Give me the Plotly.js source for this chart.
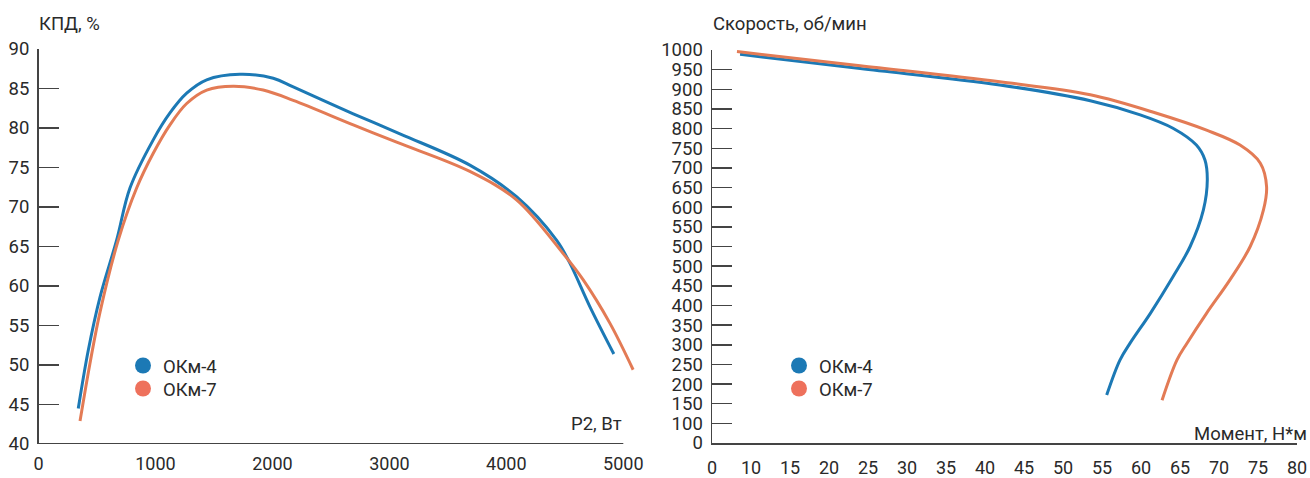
<!DOCTYPE html>
<html>
<head>
<meta charset="utf-8">
<script src="https://cdn.plot.ly/plotly-3.0.1.min.js"></script>
<style>html,body{margin:0;padding:0;background:#fff;}#chart{width:1310px;height:478px;}</style>
</head>
<body>
<div id="chart"></div>
<script>
// ---- Data: left chart (КПД vs P2) ----
const seriesNames = ["ОКм-4", "ОКм-7"];

const p2_okm4 = [340, 426, 526, 668, 782, 981, 1124, 1267, 1438, 1722, 2007, 2178, 2691, 3100, 3688, 4087, 4429, 4543, 4714, 4919];
const eff_okm4 = [44.5, 51.9, 58.6, 65.8, 72.4, 78.5, 81.9, 84.4, 86.1, 86.8, 86.3, 85.2, 81.8, 79.2, 75.3, 71.3, 65.8, 62.9, 57.4, 51.4];

const p2_okm7 = [355, 440, 526, 682, 839, 981, 1124, 1267, 1438, 1665, 1921, 2178, 2691, 3062, 3688, 4087, 4486, 4656, 4885, 5084];
const eff_okm7 = [42.9, 50.2, 56.7, 65.8, 72.4, 76.8, 80.4, 83.1, 84.8, 85.3, 84.8, 83.5, 80.4, 78.2, 74.5, 70.9, 64.1, 60.8, 55.3, 49.4];

const leftXTicks = [0, 1000, 2000, 3000, 4000, 5000];
const leftYTicks = [40, 45, 50, 55, 60, 65, 70, 75, 80, 85, 90];

// ---- Data: right chart (Скорость vs Момент) ----
const torque_okm4 = [8.6, 24.0, 41.9, 53.5, 59.9, 64.1, 67.1, 68.2, 68.5, 68.0, 66.3, 64.1, 61.2, 58.6, 57.3, 55.6];
const speed_okm4  = [989, 953, 911, 871, 835, 801, 758, 720, 669, 593, 500, 423, 330, 254, 211, 122];

const torque_okm7 = [8.2, 24.0, 41.9, 53.5, 62.0, 68.4, 72.7, 75.3, 76.1, 75.7, 74.0, 71.4, 68.4, 65.9, 64.6, 62.7];
const speed_okm7  = [996, 960, 919, 886, 839, 796, 758, 712, 652, 593, 500, 415, 330, 254, 211, 109];

const rightXTickVals = [5, 10, 15, 20, 25, 30, 35, 40, 45, 50, 55, 60, 65, 70, 75, 80];
const rightXTickText = ["0", "10", "15", "20", "25", "30", "35", "40", "45", "50", "55", "60", "65", "70", "75", "80"];
const rightYTickVals = [0, 50, 100, 150, 200, 250, 300, 350, 400, 450, 500, 550, 600, 650, 700, 750, 800, 850, 900, 950, 1000];
const rightYTickText = ["0", "100", "150", "200", "250", "300", "350", "400", "450", "500", "500", "550", "600", "650", "700", "750", "800", "850", "900", "950", "1000"];

// ---- Styles ----
const blue = "#1c79b5";
const orangeLine = "#e37b55";
const orangeDot = "#ee715c";
const txt = "#2a2a2a";
const axisCol = "#444";
const FONT = "Roboto, 'Noto Sans', sans-serif";
const FS = 18.5;
const W = 1310, H = 478;
const px = v => v / W;
const py = v => 1 - v / H;

const lineStyle = c => ({color: c, width: 3, shape: "spline", smoothing: 1});

const traces = [
  {x: p2_okm4, y: eff_okm4, mode: "lines", line: lineStyle(blue), xaxis: "x", yaxis: "y", showlegend: false, hoverinfo: "skip"},
  {x: p2_okm7, y: eff_okm7, mode: "lines", line: lineStyle(orangeLine), xaxis: "x", yaxis: "y", showlegend: false, hoverinfo: "skip"},
  {x: [null], y: [null], mode: "markers", marker: {color: blue, size: 18}, name: seriesNames[0], xaxis: "x", yaxis: "y", legend: "legend"},
  {x: [null], y: [null], mode: "markers", marker: {color: orangeDot, size: 18}, name: seriesNames[1], xaxis: "x", yaxis: "y", legend: "legend2"},
  {x: torque_okm4, y: speed_okm4, mode: "lines", line: lineStyle(blue), xaxis: "x2", yaxis: "y2", showlegend: false, hoverinfo: "skip"},
  {x: torque_okm7, y: speed_okm7, mode: "lines", line: lineStyle(orangeLine), xaxis: "x2", yaxis: "y2", showlegend: false, hoverinfo: "skip"},
  {x: [null], y: [null], mode: "markers", marker: {color: blue, size: 18}, name: seriesNames[0], xaxis: "x2", yaxis: "y2", legend: "legend3"},
  {x: [null], y: [null], mode: "markers", marker: {color: orangeDot, size: 18}, name: seriesNames[1], xaxis: "x2", yaxis: "y2", legend: "legend4"}
];

const tickFont = {family: FONT, size: FS, color: txt};
const xTickFont = {family: FONT, size: 18, color: txt};
const annFont = {family: FONT, size: FS, color: txt};
const legendBase = (x, y) => ({x: px(x), y: py(y), xanchor: "left", yanchor: "middle", bgcolor: "rgba(0,0,0,0)", font: {family: FONT, size: FS, color: txt}});

const layout = {
  width: W, height: H,
  margin: {l: 0, r: 0, t: 0, b: 0},
  paper_bgcolor: "#fff", plot_bgcolor: "rgba(0,0,0,0)",
  font: {family: FONT, size: FS, color: txt},
  xaxis: {
    domain: [px(38.5), px(635)], range: [0, 5100],
    tickvals: leftXTicks, ticks: "", showline: false, showgrid: false, zeroline: false,
    tickfont: xTickFont, ticklabelstandoff: 7, automargin: false, fixedrange: true
  },
  yaxis: {
    domain: [py(444), py(49)], range: [40, 90],
    tickvals: leftYTicks, ticks: "inside", ticklen: 20, tickwidth: 1.5, tickcolor: axisCol,
    showline: true, linecolor: axisCol, linewidth: 1.5, showgrid: false, zeroline: false,
    tickfont: tickFont, ticklabelstandoff: 4, automargin: false, fixedrange: true
  },
  xaxis2: {
    domain: [px(712), px(1297)], range: [5, 80], anchor: "y2",
    tickvals: rightXTickVals, ticktext: rightXTickText, ticks: "",
    showline: true, linecolor: axisCol, linewidth: 2, showgrid: false, zeroline: false,
    tickfont: xTickFont, ticklabelstandoff: 7, automargin: false, fixedrange: true
  },
  yaxis2: {
    domain: [py(443), py(50)], range: [0, 1000], anchor: "x2",
    tickvals: rightYTickVals, ticktext: rightYTickText, ticks: "inside", ticklen: 20, tickwidth: 1.5, tickcolor: axisCol,
    showline: true, linecolor: axisCol, linewidth: 1.5, showgrid: false, zeroline: false,
    tickfont: tickFont, ticklabelstandoff: 4, automargin: false, fixedrange: true
  },
  shapes: [
    {type: "line", xref: "x", yref: "y", x0: 0, x1: 5000, y0: 40, y1: 40, line: {color: axisCol, width: 2}}
  ],
  annotations: [
    {text: "КПД, %", xref: "paper", yref: "paper", x: px(37), y: py(24), xanchor: "left", yanchor: "middle", showarrow: false, font: annFont},
    {text: "P2, Вт", xref: "paper", yref: "paper", x: px(624), y: py(424), xanchor: "right", yanchor: "middle", showarrow: false, font: annFont},
    {text: "Скорость, об/мин", xref: "paper", yref: "paper", x: px(711), y: py(24), xanchor: "left", yanchor: "middle", showarrow: false, font: annFont},
    {text: "Момент, Н*м", xref: "paper", yref: "paper", x: px(1309), y: py(434), xanchor: "right", yanchor: "middle", showarrow: false, font: annFont}
  ],
  legend: legendBase(123, 366),
  legend2: legendBase(123, 389),
  legend3: legendBase(779, 366),
  legend4: legendBase(779, 389)
};

Plotly.newPlot("chart", traces, layout, {staticPlot: true, displayModeBar: false});
</script>
</body>
</html>
